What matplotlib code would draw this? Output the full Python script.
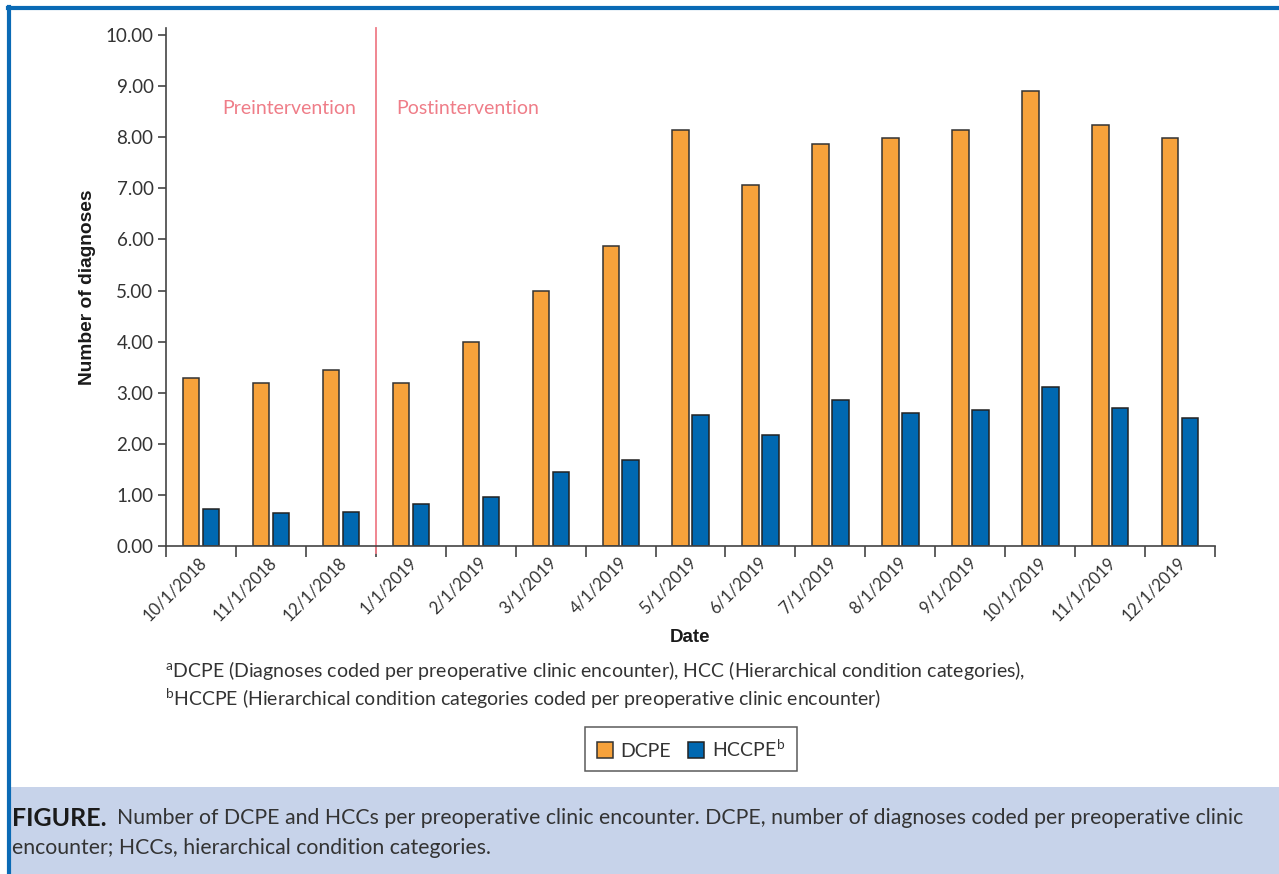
import numpy as np
import matplotlib.pyplot as plt
import matplotlib.transforms as mtrans
from matplotlib.patches import Rectangle
from matplotlib.lines import Line2D

# data
dates = ['10/1/2018', '11/1/2018', '12/1/2018', '1/1/2019', '2/1/2019', '3/1/2019',
         '4/1/2019', '5/1/2019', '6/1/2019', '7/1/2019', '8/1/2019', '9/1/2019',
         '10/1/2019', '11/1/2019', '12/1/2019']
dcpe = [3.29, 3.20, 3.45, 3.20, 4.00, 5.00, 5.87, 8.14, 7.06, 7.87, 7.99, 8.14, 8.91, 8.25, 7.99]
hccpe = [0.72, 0.65, 0.67, 0.82, 0.95, 1.44, 1.68, 2.56, 2.18, 2.86, 2.61, 2.66, 3.12, 2.71, 2.50]
yticks = [0, 1, 2, 3, 4, 5, 6, 7, 8, 9, 10]

ORANGE = '#f7a23b'
BLUE = '#0068b1'
TXT = '#333333'
PINK = '#ef7d88'

plt.rcParams['font.family'] = ['Lato', 'DejaVu Sans']
plt.rcParams['mathtext.fontset'] = 'custom'
plt.rcParams['mathtext.rm'] = 'Lato'
plt.rcParams['mathtext.it'] = 'Lato'

W, H = 1279, 874
fig = plt.figure(figsize=(W / 100, H / 100), dpi=100)

def fx(px):
    return px / W

def fy(py):
    return 1 - py / H

# frame and caption band
fig.patches.append(Rectangle((fx(8), 0), 1 - fx(8), fy(787), transform=fig.transFigure,
                             facecolor='#c7d3ea', edgecolor='none', zorder=0))
fig.lines.append(Line2D([fx(9), fx(9)], [0, fy(7)], transform=fig.transFigure,
                        color='#0a6ab5', lw=3))
fig.lines.append(Line2D([fx(8), 1], [fy(7.5), fy(7.5)], transform=fig.transFigure,
                        color='#0a6ab5', lw=3))

ax = fig.add_axes([fx(166), fy(546), fx(1215) - fx(166), fy(28) - fy(546)])
x = np.arange(len(dates))
w = 0.235
ax.bar(x - 0.14, dcpe, w, color=ORANGE, edgecolor='#333333', linewidth=1.1, label='DCPE')
ax.bar(x + 0.145, hccpe, w, color=BLUE, edgecolor='#222222', linewidth=1.1,
       label=r'HCCPE$^{\mathrm{b}}$')

ax.set_xlim(-0.5, len(dates) - 0.5)
ax.set_ylim(0, 10.14)
ax.set_yticks(yticks)
ax.set_yticklabels(['{:.2f}'.format(v) for v in yticks], fontsize=13.5, color=TXT)
ax.set_xticks(x)
ax.set_xticklabels(dates, rotation=45, ha='right', fontsize=12, color=TXT)
ax.set_xticks(np.arange(-0.5, len(dates), 1), minor=True)
ax.tick_params(axis='x', which='major', length=0, pad=6)
ax.tick_params(axis='x', which='minor', length=8, width=1.2, color='#444444')
ax.tick_params(axis='y', length=6, width=1.2, color='#444444', pad=3)
for s in ['top', 'right']:
    ax.spines[s].set_visible(False)
for s in ['left', 'bottom']:
    ax.spines[s].set_color('#444444')
    ax.spines[s].set_linewidth(1.2)

off = mtrans.ScaledTranslation(9 / 100, 0, fig.dpi_scale_trans)
for lab in ax.get_xticklabels():
    lab.set_transform(lab.get_transform() + off)

ax.axvline(2.5, ymin=-0.0135, ymax=1, color=PINK, lw=1.3, clip_on=False)
ax.text(1.26, 8.57, 'Preintervention', color=PINK, fontsize=14, ha='center', va='center')
ax.text(3.82, 8.57, 'Postintervention', color=PINK, fontsize=14, ha='center', va='center')

fig.text(fx(88), fy(287), 'Number of diagnoses', rotation=90, ha='center', va='center',
         fontsize=13.8, fontweight='bold', color='#1a1a1a', family='Liberation Sans')
fig.text(fx(690), fy(637), 'Date', ha='center', va='center',
         fontsize=13.5, fontweight='bold', color='#1a1a1a', family='Liberation Sans')

fig.text(fx(165), fy(671), r'$^{\mathrm{a}}$DCPE (Diagnoses coded per preoperative clinic encounter), '
         'HCC (Hierarchical condition categories),', ha='left', va='center', fontsize=14, color=TXT)
fig.text(fx(165), fy(699), r'$^{\mathrm{b}}$HCCPE (Hierarchical condition categories coded per '
         'preoperative clinic encounter)', ha='left', va='center', fontsize=14, color=TXT)

leg = fig.legend(loc='center', bbox_to_anchor=(fx(691), fy(749)), ncol=2, fontsize=14,
                 frameon=True, fancybox=False, edgecolor='#333333', handlelength=0.8,
                 handleheight=0.9, handletextpad=0.4, columnspacing=0.9, borderpad=0.6)
leg.get_frame().set_linewidth(1.1)
for t in leg.get_texts():
    t.set_color(TXT)

fig.text(fx(12), fy(818), r'FIGURE.', ha='left', va='center', fontsize=18,
         fontweight='bold', color='#1a1a1a')
fig.text(fx(117), fy(818), 'Number of DCPE and HCCs per preoperative clinic encounter. DCPE, number of '
         'diagnoses coded per preoperative clinic', ha='left', va='center', fontsize=15.3, color=TXT)
fig.text(fx(12), fy(848), 'encounter; HCCs, hierarchical condition categories.', ha='left',
         va='center', fontsize=15.3, color=TXT)

fig.savefig('out.png', dpi=100)
